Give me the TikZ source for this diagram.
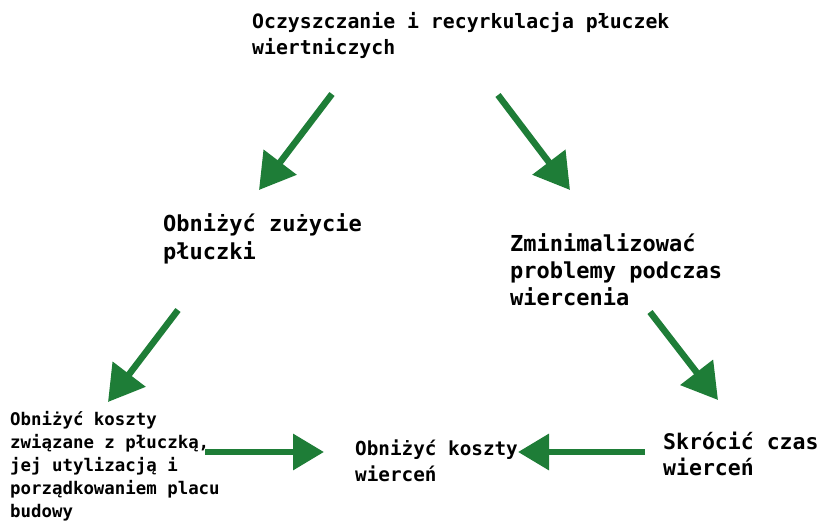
\documentclass[tikz,border=0pt]{standalone}
\usepackage{fontspec}
\setmonofont{DejaVu Sans Mono}
\usetikzlibrary{arrows.meta}
\definecolor{arrgreen}{RGB}{30,125,55}
\begin{document}
\begin{tikzpicture}[x=1pt,y=-1pt,
  lbl/.style={anchor=north west,inner sep=0pt,align=left,font=\ttfamily\bfseries},
  garrow/.style={draw=arrgreen,line width=6.5pt,-{Triangle[length=35pt,width=40pt]},fill=arrgreen},
  harrow/.style={draw=arrgreen,line width=6.5pt,-{Triangle[length=31pt,width=35pt]},fill=arrgreen}]
\useasboundingbox (0,0) rectangle (819,520);
\node[lbl,font=\ttfamily\bfseries\fontsize{19.8}{26}\selectfont] (top) at (252,12)
  {Oczyszczanie i recyrkulacja płuczek\\wiertniczych};
\node[lbl,font=\ttfamily\bfseries\fontsize{22}{28}\selectfont] (ml) at (163,213)
  {Obniżyć zużycie\\płuczki};
\node[lbl,font=\ttfamily\bfseries\fontsize{22}{27}\selectfont] (mr) at (510,233)
  {Zminimalizować\\problemy podczas\\wiercenia};
\node[lbl,font=\ttfamily\bfseries\fontsize{17.4}{23}\selectfont] (bl) at (10,411)
  {Obniżyć koszty\\związane z płuczką,\\jej utylizacją i\\porządkowaniem placu\\budowy};
\node[lbl,font=\ttfamily\bfseries\fontsize{19.3}{26}\selectfont] (bc) at (355,440)
  {Obniżyć koszty\\wierceń};
\node[lbl,font=\ttfamily\bfseries\fontsize{21.5}{26}\selectfont] (br) at (663,432)
  {Skrócić czas\\wierceń};
\coordinate (a1s) at (332,94);  \coordinate (a1e) at (259,190);
\coordinate (a2s) at (498,95);  \coordinate (a2e) at (570,190);
\coordinate (a3s) at (178,310); \coordinate (a3e) at (108,402);
\coordinate (a4s) at (650,312); \coordinate (a4e) at (718,400);
\coordinate (a5s) at (205,452); \coordinate (a5e) at (324,452);
\coordinate (a6s) at (645,452); \coordinate (a6e) at (518,452);
\draw[garrow] (a1s) -- (a1e);
\draw[garrow] (a2s) -- (a2e);
\draw[garrow] (a3s) -- (a3e);
\draw[garrow] (a4s) -- (a4e);
\draw[harrow] (a5s) -- (a5e);
\draw[harrow] (a6s) -- (a6e);
\end{tikzpicture}
\end{document}
